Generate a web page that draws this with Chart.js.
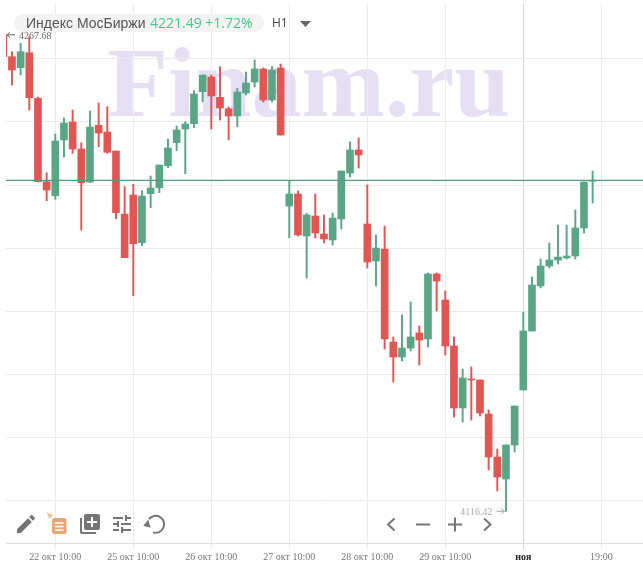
<!DOCTYPE html>
<html lang="ru">
<head>
<meta charset="utf-8">
<title>Индекс МосБиржи H1</title>
<script src="https://cdn.jsdelivr.net/npm/chart.js@4"></script>
<style>
  html, body { margin: 0; padding: 0; background: #fff; overflow: hidden; }
  #stage { position: relative; width: 643px; height: 573px; overflow: hidden; }
  #mark {
    position: absolute; left: 107px; top: 25px; z-index: 0; white-space: nowrap;
    font: bold 100px/115px "Liberation Serif", serif; color: #e6dff4;
  }
  canvas { position: absolute; left: 0; top: 0; z-index: 1; }
  #pill {
    position: absolute; left: 14px; top: 14px; width: 250px; height: 18px; z-index: 2;
    background: #f3f3f3; border-radius: 9px;
  }
  .hd { position: absolute; z-index: 3; top: 14px; line-height: 18px; white-space: nowrap;
        font-family: "Open Sans", sans-serif; font-size: 14px; }
  #name { left: 26px; color: #555; font-family: "Liberation Sans", sans-serif; }
  #quote { left: 150px; color: #43cb85; }
  #tf { left: 272px; color: #444; font-size: 12px; }
  svg.ic { position: absolute; z-index: 3; }
</style>
</head>
<body>
<div id="stage">
  <div id="mark">Finam.ru</div>
  <canvas id="c" width="643" height="573"></canvas>
  <div id="pill"></div>
  <div class="hd" id="name">Индекс МосБиржи</div>
  <div class="hd" id="quote">4221.49 +1.72%</div>
  <div class="hd" id="tf">H1</div>
  <svg class="ic" style="left:300px;top:21px" width="11" height="6" viewBox="0 0 11 6"><path d="M0 0h11L5.5 6z" fill="#666"/></svg>

  <!-- left toolbar -->
  <svg class="ic" style="left:14px;top:512px" width="24" height="24" viewBox="0 0 24 24" fill="#757575"><path d="M3 17.25V21h3.75L17.81 9.94l-3.75-3.75L3 17.25zM20.71 7.04c.39-.39.39-1.02 0-1.41l-2.34-2.34c-.39-.39-1.02-.39-1.41 0l-1.83 1.83 3.75 3.75 1.83-1.83z"/></svg>
  <svg class="ic" style="left:46px;top:512px" width="21" height="23" viewBox="0 0 21 23">
    <path d="M.7 .3l6.6 2.7-4 4z" fill="#f0c09c"/>
    <rect x="6" y="6" width="14.5" height="16" rx="2.5" fill="#e8a673"/>
    <path d="M9 11h8.5M9 14.5h8.5M9 18h8.5" stroke="#fff" stroke-width="1.6"/>
  </svg>
  <svg class="ic" style="left:78px;top:512px" width="24" height="24" viewBox="0 0 24 24" fill="#757575"><path d="M4 6H2v14c0 1.1.9 2 2 2h14v-2H4V6zm16-4H8c-1.1 0-2 .9-2 2v12c0 1.1.9 2 2 2h12c1.1 0 2-.9 2-2V4c0-1.1-.9-2-2-2zm-1 9h-4v4h-2v-4H9V9h4V5h2v4h4v2z"/></svg>
  <svg class="ic" style="left:110px;top:512px" width="24" height="24" viewBox="0 0 24 24" fill="#757575"><path d="M3 17v2h6v-2H3zM3 5v2h10V5H3zm10 16v-2h8v-2h-8v-2h-2v6h2zM7 9v2H3v2h4v2h2V9H7zm14 4v-2H11v2h10zm-6-4h2V7h4V5h-4V3h-2v6z"/></svg>
  <svg class="ic" style="left:142px;top:513px" width="24" height="22" viewBox="0 0 24 22" fill="none">
    <path d="M7 6A8.5 8.5 0 1 1 11 19.4" stroke="#757575" stroke-width="2"/>
    <path d="M1.3 12.7L6.3 6.5 8.5 14.7z" fill="#757575"/>
  </svg>

  <!-- navigation buttons -->
  <svg class="ic" style="left:384px;top:516px" width="110" height="17" viewBox="0 0 110 17" fill="none" stroke="#757575" stroke-width="2">
    <path d="M10.5 2.5L4 8.5l6.5 6"/>
    <path d="M32 8.5h14"/>
    <path d="M64 8.5h14M71 1.5v14" />
    <path d="M100 2.5l6.5 6-6.5 6"/>
  </svg>
</div>
<script>
// Hourly candles of the index; each session holds nine bars.
const open = [
  4267.68, 4260.73, 4257.24, 4262.00, 4247.52, 4221.05, 4216.60, 4234.29, 4240.00, 4231.43,
  4220.95, 4238.95, 4236.83, 4230.79, 4210.79, 4216.83, 4201.68, 4217.24, 4219.14, 4226.13,
  4233.43, 4237.78, 4239.46, 4249.62, 4254.29, 4247.84, 4244.22, 4241.90, 4249.21, 4252.70,
  4256.83, 4246.98, 4257.14, 4213.33, 4217.14, 4203.81, 4210.16, 4204.44, 4202.54, 4209.21,
  4223.81, 4231.11, 4207.62, 4195.87, 4199.68, 4170.16, 4165.40, 4168.25, 4173.02, 4171.11,
  4191.75, 4183.49, 4168.89, 4149.21, 4158.41, 4158.10, 4147.30, 4133.65, 4126.67, 4137.46,
  4154.92, 4173.65, 4187.94, 4194.29, 4196.19, 4196.83, 4197.46, 4206.35, 4221.20
];
const high = [
  4267.68, 4262.32, 4264.98, 4267.08, 4247.94, 4223.90, 4236.19, 4241.27, 4243.81, 4233.43,
  4243.49, 4246.03, 4244.86, 4230.79, 4219.46, 4220.22, 4218.19, 4222.86, 4226.35, 4234.60,
  4238.73, 4240.10, 4249.94, 4254.92, 4254.92, 4257.56, 4244.76, 4250.70, 4255.87, 4259.68,
  4257.14, 4257.56, 4258.41, 4221.36, 4218.10, 4211.02, 4217.14, 4210.48, 4211.11, 4224.44,
  4233.65, 4234.92, 4220.00, 4204.13, 4206.98, 4171.75, 4178.73, 4182.86, 4175.24, 4192.06,
  4192.06, 4186.35, 4171.75, 4161.59, 4162.22, 4158.10, 4148.57, 4136.19, 4137.46, 4149.84,
  4179.68, 4190.79, 4196.51, 4201.59, 4207.30, 4207.30, 4212.06, 4220.95, 4224.44
];
const low = [
  4260.73, 4251.75, 4254.92, 4243.81, 4220.95, 4215.02, 4215.46, 4228.89, 4230.06, 4205.71,
  4220.73, 4232.16, 4230.06, 4209.30, 4196.92, 4184.86, 4200.73, 4212.79, 4217.56, 4225.49,
  4230.89, 4223.59, 4238.19, 4246.44, 4237.78, 4240.63, 4234.29, 4238.51, 4248.57, 4251.11,
  4246.35, 4246.35, 4235.87, 4203.27, 4203.81, 4190.48, 4203.18, 4201.59, 4200.95, 4206.03,
  4222.54, 4225.40, 4193.65, 4187.94, 4167.94, 4157.46, 4164.13, 4167.30, 4162.86, 4168.57,
  4180.00, 4166.03, 4146.35, 4144.76, 4145.40, 4146.67, 4129.52, 4122.86, 4116.42, 4135.24,
  4154.92, 4173.65, 4187.30, 4193.65, 4194.92, 4196.51, 4196.51, 4204.76, 4214.29
];
const close = [
  4260.73, 4256.51, 4262.32, 4247.71, 4221.05, 4218.41, 4233.97, 4239.68, 4231.43, 4220.73,
  4238.41, 4236.51, 4230.38, 4211.21, 4196.92, 4201.36, 4216.51, 4219.05, 4226.35, 4231.75,
  4237.46, 4239.36, 4248.89, 4254.92, 4248.25, 4244.44, 4241.90, 4249.52, 4252.38, 4256.83,
  4246.98, 4256.51, 4235.87, 4217.14, 4204.13, 4210.48, 4204.76, 4202.86, 4209.52, 4224.44,
  4231.11, 4229.52, 4195.56, 4200.00, 4171.11, 4165.40, 4168.25, 4171.75, 4170.79, 4191.75,
  4189.52, 4168.89, 4149.21, 4158.73, 4158.10, 4147.62, 4133.65, 4127.30, 4137.46, 4149.84,
  4173.65, 4188.25, 4194.29, 4196.19, 4197.14, 4197.46, 4206.35, 4220.95, 4221.49
];

const tickBars = [6, 15, 24, 33, 42, 51, 60, 69];
const tickLabels = ['22 окт 10:00', '25 окт 10:00', '26 окт 10:00', '27 окт 10:00',
                    '28 окт 10:00', '29 окт 10:00', 'ноя', '19:00'];
const monthTick = 6;

const lastPrice = 4221.49;
const extremeHigh = 4267.68;
const extremeLow = 4116.42;
const extremeHighBar = 0;
const extremeLowBar = 58;

const UP = '#5aa585', DOWN = '#e15553';
const xMin = 0.312, xMax = 73.81, yMin = 4106.35, yMax = 4277.46;
const colors = open.map((o, i) => close[i] >= o ? UP : DOWN);

// Arrows and values marking the highest and lowest prints on screen.
const extremes = {
  id: 'extremes',
  afterDatasetsDraw(chart) {
    const { ctx, scales: { x, y } } = chart;
    ctx.save();
    ctx.font = '10px "Liberation Serif", serif';
    ctx.textBaseline = 'middle';
    ctx.lineWidth = 1;

    const yHigh = y.getPixelForValue(extremeHigh);
    const xHigh = Math.max(x.getPixelForValue(extremeHighBar), x.left) + 1;
    ctx.strokeStyle = '#666';
    ctx.fillStyle = '#666';
    ctx.beginPath();
    ctx.moveTo(xHigh + 8, yHigh); ctx.lineTo(xHigh, yHigh);
    ctx.moveTo(xHigh + 3, yHigh - 2.5); ctx.lineTo(xHigh, yHigh); ctx.lineTo(xHigh + 3, yHigh + 2.5);
    ctx.stroke();
    ctx.textAlign = 'left';
    ctx.fillText(extremeHigh.toFixed(2), xHigh + 12, yHigh + 2);

    const yLow = y.getPixelForValue(extremeLow);
    const xLow = x.getPixelForValue(extremeLowBar) - 1.5;
    ctx.strokeStyle = '#a5a5a5';
    ctx.fillStyle = '#a8a8a8';
    ctx.beginPath();
    ctx.moveTo(xLow - 8, yLow); ctx.lineTo(xLow, yLow);
    ctx.moveTo(xLow - 3, yLow - 2.5); ctx.lineTo(xLow, yLow); ctx.lineTo(xLow - 3, yLow + 2.5);
    ctx.stroke();
    ctx.textAlign = 'right';
    ctx.fillText(extremeLow.toFixed(2), xLow - 12, yLow + 1);
    ctx.restore();
  }
};

new Chart(document.getElementById('c'), {
  type: 'bar',
  plugins: [extremes],
  data: {
    datasets: [
      {
        type: 'line',
        data: [{ x: xMin, y: lastPrice }, { x: xMax, y: lastPrice }],
        borderColor: '#569a7b', borderWidth: 1.3, pointRadius: 0, tension: 0
      },
      {
        data: open.map((o, i) => ({ x: i, y: [o, close[i]] })),
        backgroundColor: colors, barThickness: 7, grouped: false, minBarLength: 1
      },
      {
        data: open.map((o, i) => ({ x: i, y: [low[i], high[i]] })),
        backgroundColor: colors, barThickness: 1.3, grouped: false
      }
    ]
  },
  options: {
    responsive: false,
    animation: false,
    layout: { padding: { left: 6, top: 4, right: 0, bottom: 0 } },
    plugins: { legend: { display: false }, tooltip: { enabled: false } },
    scales: {
      x: {
        type: 'linear', min: xMin, max: xMax, offset: false,
        afterBuildTicks(axis) { axis.ticks = tickBars.map(v => ({ value: v })); },
        afterFit(axis) { axis.height = 30; },
        border: { color: '#dcdcdc', width: 1 },
        grid: {
          offset: false,
          tickLength: 6,
          color: c => c.index === monthTick ? '#d6d6d6' : '#ebebeb'
        },
        ticks: {
          autoSkip: false, maxRotation: 0, padding: 2,
          callback: (v, i) => tickLabels[i],
          color: c => c.index === monthTick ? '#222' : '#777',
          font: c => ({
            family: '"Liberation Serif", serif', size: 10,
            weight: c.index === monthTick ? 'bold' : 'normal'
          })
        }
      },
      y: {
        min: yMin, max: yMax,
        afterFit(axis) { axis.width = 0; },
        border: { display: false },
        grid: { color: '#ebebeb', drawTicks: false },
        ticks: { display: false, stepSize: 20, includeBounds: false }
      }
    }
  }
});
</script>
</body>
</html>
